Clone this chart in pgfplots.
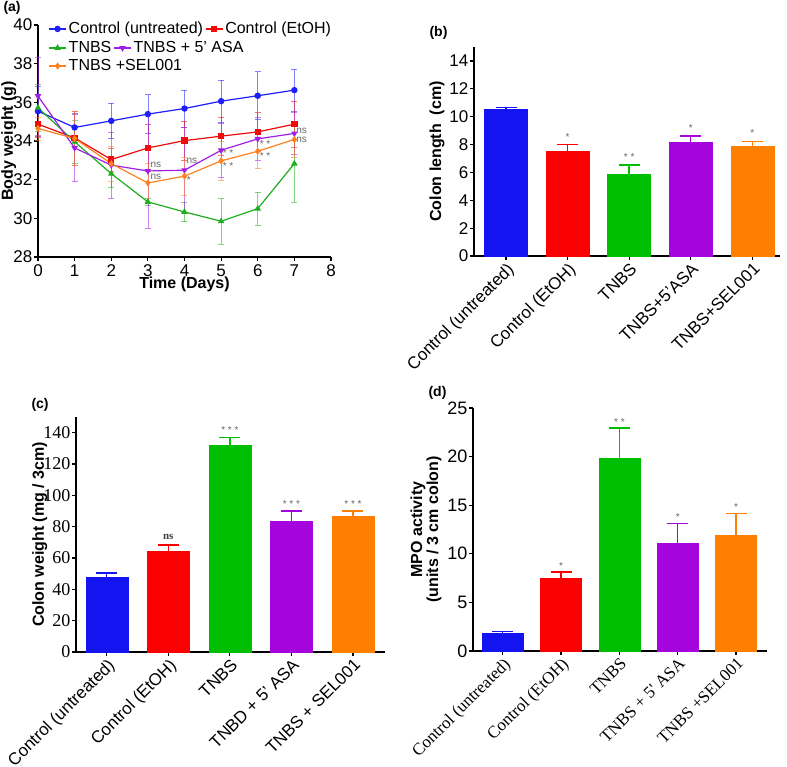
\documentclass[border=0pt]{standalone}
\usepackage{fontspec}
\setmainfont{Liberation Sans}
\newfontfamily\timesfont{Liberation Serif}
\usepackage{pgfplots}
\pgfplotsset{compat=1.18}
\definecolor{cblue}{RGB}{20,20,240}
\definecolor{cred}{RGB}{250,0,0}
\definecolor{cgreen}{RGB}{0,190,0}
\definecolor{cpurple}{RGB}{165,5,220}
\definecolor{corange}{RGB}{255,128,0}
\definecolor{lblue}{RGB}{30,30,255}
\definecolor{lred}{RGB}{240,10,10}
\definecolor{lgreen}{RGB}{30,175,30}
\definecolor{lpurple}{RGB}{160,30,230}
\definecolor{lorange}{RGB}{255,130,30}
\newcommand{\fs}[1]{\fontsize{#1}{#1}\selectfont}
\tikzset{lab/.style={font=\fs{10}, text=black!60}}
\pgfplotsset{
  panel/.style={scale only axis, anchor=south west,
    axis x line*=bottom, axis y line*=left,
    axis line style={line width=1.6pt, black},
    every tick/.style={line width=1.2pt, black},
    tick align=outside, major tick length=4pt,
    /pgf/number format/assume math mode=true,
    tick label style={font=\fs{17}, black},
    yticklabel style={inner sep=1.5pt},
    label style={font=\bfseries\fs{16}}},
  barpanel/.style={panel, xmin=-0.52, xmax=4.45, xtick={0,...,4},
    x tick label style={rotate=45, anchor=north east, inner sep=1pt}},
  lineplot/.style={line width=1.2pt, mark size=2.6pt, mark options={solid},
    error bars/y dir=both, error bars/y explicit,
    error bars/error bar style={line width=0.6pt, opacity=0.55},
    error bars/error mark options={rotate=90, line width=0.6pt, opacity=0.55, mark size=3pt}},
  legrow/.style={legend columns=-1, legend style={draw=none, fill=none, inner sep=0pt,
    font=\fs{16}, anchor=west, at={(axis description cs:0.035,#1)},
    /tikz/every even column/.style={column sep=0pt}}},
}
\newcommand{\mybar}[4]{% x, y, err, color
  \addplot[ybar, bar shift=0pt, fill=#4, draw=#4,
    error bars/.cd, y dir=plus, y explicit,
    error bar style={draw=#4, line width=1.4pt},
    error mark options={rotate=90, draw=#4, line width=1.4pt, mark size=10.5pt}]
    coordinates {(#1,#2) +- (0,#3)};}
\begin{document}
\begin{tikzpicture}[x=1pt,y=1pt]
\useasboundingbox (0,0) rectangle (787,767);
% ---------------- (a)
\begin{axis}[panel, at={(38pt,510pt)}, width=293pt, height=232pt,
  xmin=0, xmax=8, ymin=28, ymax=40, xtick={0,...,8}, ytick={28,30,...,40},
  xlabel={Time (Days)}, ylabel={Body weight (g)},
  xlabel style={at={(axis description cs:0.5,-0.118)}, anchor=center},
  ylabel style={at={(axis description cs:-0.1,0.5)}, anchor=center},
  legrow=0.983, clip=false]
\addplot[lineplot, color=lblue, mark=*] table[x=x,y=y,y error=e]{
x y e
0 35.54 1.3
1 34.70 0.75
2 35.04 0.9
3 35.39 1.0
4 35.68 0.95
5 36.06 1.07
6 36.34 1.24
7 36.63 1.07
};
\addlegendentry{Control (untreated)}
\addplot[lineplot, color=lred, mark=square*] table[x=x,y=y,y error=e]{
x y e
0 34.87 0.7
1 34.16 1.4
2 33.04 0.6
3 33.64 1.2
4 34.02 1.0
5 34.25 1.0
6 34.47 1.0
7 34.87 1.2
};
\addlegendentry{Control (EtOH)}
\addplot[lineplot, color=lgreen, mark=triangle*] table[x=x,y=y,y error=e]{
x y e
0 35.72 1.2
1 33.96 1.1
2 32.31 0.7
3 30.85 0.2
4 30.33 0.5
5 29.85 1.17
6 30.50 0.85
7 32.83 2.0
};
\addplot[lineplot, color=lpurple, mark=triangle*, mark options={rotate=180}] table[x=x,y=y,y error=e]{
x y e
0 36.32 2.0
1 33.64 1.75
2 32.75 1.7
3 32.45 2.95
4 32.49 2.2
5 33.52 1.4
6 34.11 1.1
7 34.39 1.1
};
\addplot[lineplot, color=lorange, mark=diamond*] table[x=x,y=y,y error=e]{
x y e
0 34.65 0.6
1 34.13 1.4
2 32.83 0.9
3 31.83 1.0
4 32.18 1.0
5 32.97 1.0
6 33.47 0.9
7 34.08 0.9
};
\node[lab] at (axis cs:3.22,32.76) {ns};
\node[lab] at (axis cs:3.22,32.15) {ns};
\node[lab] at (axis cs:4.2,32.96) {ns};
\node[lab] at (axis cs:4.12,31.98) {*};
\node[lab] at (axis cs:5.19,33.37) {* *};
\node[lab] at (axis cs:5.19,32.72) {* *};
\node[lab] at (axis cs:6.2,33.84) {* *};
\node[lab] at (axis cs:6.2,33.22) {* *};
\node[lab] at (axis cs:7.2,34.53) {ns};
\node[lab] at (axis cs:7.2,34.05) {ns};
\end{axis}
\begin{axis}[at={(38pt,510pt)}, anchor=south west, scale only axis, width=293pt, height=232pt,
  xmin=0, xmax=8, ymin=28, ymax=40, hide axis, legrow=0.901]
\addlegendimage{line width=1.2pt, color=lgreen, mark=triangle*, mark size=2.6pt}
\addlegendentry{TNBS}
\addlegendimage{line width=1.2pt, color=lpurple, mark=triangle*, mark size=2.6pt, mark options={rotate=180}}
\addlegendentry{TNBS + 5' ASA}
\end{axis}
\begin{axis}[at={(38pt,510pt)}, anchor=south west, scale only axis, width=293pt, height=232pt,
  xmin=0, xmax=8, ymin=28, ymax=40, hide axis, legrow=0.823]
\addlegendimage{line width=1.2pt, color=lorange, mark=diamond*, mark size=2.6pt}
\addlegendentry{TNBS +SEL001}
\end{axis}
\node[anchor=west, font=\bfseries\fs{14}] at (0,759) {(a)};
% ---------------- (b)
\begin{axis}[barpanel, at={(474pt,511pt)}, width=306pt, height=209pt,
  ymin=0, ymax=15, ytick={0,2,...,14}, bar width=43pt,
  xticklabels={Control (untreated),Control (EtOH),TNBS,TNBS+5'ASA,TNBS+SEL001},
  ylabel={Colon length\ \ (cm)},
  ylabel style={at={(axis description cs:-0.121,0.5)}, anchor=center}, clip=false]
\mybar{0}{10.53}{0.12}{cblue}
\mybar{1}{7.53}{0.46}{cred}
\mybar{2}{5.84}{0.7}{cgreen}
\mybar{3}{8.18}{0.43}{cpurple}
\mybar{4}{7.89}{0.34}{corange}
\node[lab] at (axis cs:1,8.5) {*};
\node[lab] at (axis cs:2,7.1) {* *};
\node[lab] at (axis cs:3,9.15) {*};
\node[lab] at (axis cs:4,8.85) {*};
\end{axis}
\node[anchor=west, font=\bfseries\fs{14}] at (426,734) {(b)};
% ---------------- (c)
\begin{axis}[barpanel, at={(76pt,115pt)}, width=309pt, height=235pt, xmin=-0.5, xmax=4.52,
  ymin=0, ymax=150, ytick={0,20,...,140}, bar width=42pt,
  y tick label style={font=\timesfont\fs{18}},
  xticklabels={Control (untreated),Control (EtOH),TNBS,TNBD + 5' ASA,TNBS + SEL001},
  ylabel={Colon weight (mg / 3cm)},
  ylabel style={at={(axis description cs:-0.117,0.5)}, anchor=center}, clip=false]
\mybar{0}{47.9}{2.6}{cblue}
\mybar{1}{64.6}{3.8}{cred}
\mybar{2}{132.3}{4.8}{cgreen}
\mybar{3}{83.6}{6.4}{cpurple}
\mybar{4}{86.8}{3.2}{corange}
\node[font=\timesfont\bfseries\fs{11}, text=black!75] at (axis cs:1,73.3) {ns};
\node[lab] at (axis cs:2,141.5) {* * *};
\node[lab] at (axis cs:3,94.6) {* * *};
\node[lab] at (axis cs:4,94.6) {* * *};
\end{axis}
\node[anchor=west, font=\bfseries\fs{14}] at (28,362) {(c)};
% ---------------- (d)
\begin{axis}[barpanel, at={(473pt,116pt)}, width=294pt, height=243pt, xmin=-0.51, xmax=4.53,
  ymin=0, ymax=25, ytick={0,5,...,25}, bar width=41pt,
  y tick label style={font=\fs{18}},
  x tick label style={font=\timesfont\fs{17}},
  xticklabels={Control (untreated),Control (EtOH),TNBS,TNBS + 5' ASA,TNBS +SEL001},
  ylabel={MPO activity\\(units / 3 cm colon)},
  ylabel style={at={(axis description cs:-0.16,0.5)}, anchor=center, align=center}, clip=false]
\mybar{0}{1.88}{0.11}{cblue}
\mybar{1}{7.47}{0.65}{cred}
\mybar{2}{19.87}{3.08}{cgreen}
\mybar{3}{11.13}{1.96}{cpurple}
\mybar{4}{11.92}{2.2}{corange}
\node[lab] at (axis cs:1,8.77) {*};
\node[lab] at (axis cs:2,23.55) {* *};
\node[lab] at (axis cs:3,13.8) {*};
\node[lab] at (axis cs:4,14.8) {*};
\end{axis}
\node[anchor=west, font=\bfseries\fs{14}] at (425,374) {(d)};
\end{tikzpicture}
\end{document}
